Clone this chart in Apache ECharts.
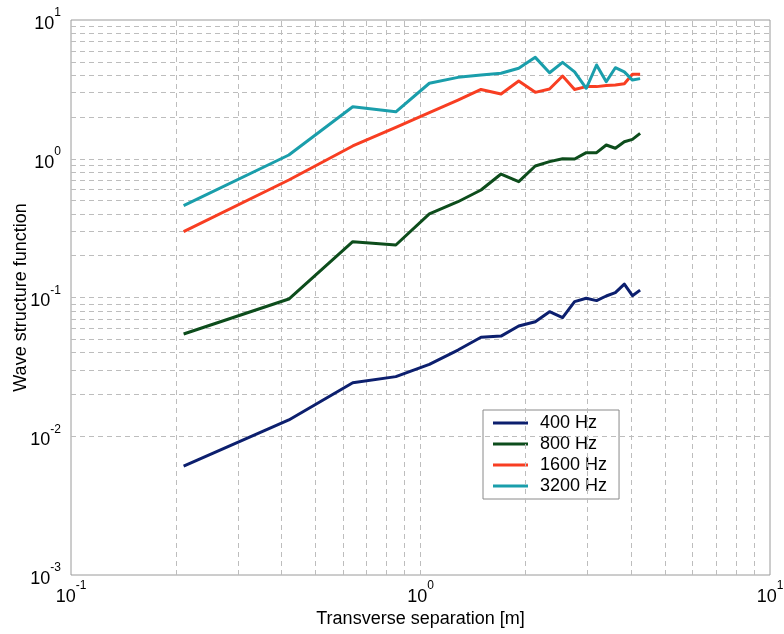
<!DOCTYPE html>
<html>
<head>
<meta charset="utf-8">
<script src="https://cdn.jsdelivr.net/npm/echarts@6/dist/echarts.min.js"></script>
<style>
html,body{margin:0;padding:0;background:#fff;}
#chart{width:784px;height:634px;}
</style>
</head>
<body>
<div id="chart"></div>
<script>
// Transverse separation [m]
const separation = [0.21, 0.42, 0.64, 0.85, 1.06, 1.28, 1.49, 1.70, 1.91, 2.13, 2.34, 2.55, 2.76, 2.98, 3.19, 3.40, 3.61, 3.83, 4.04, 4.25];
const seriesNames = ['400 Hz', '800 Hz', '1600 Hz', '3200 Hz'];
const hz400  = [0.0061, 0.0131, 0.0243, 0.0269, 0.033, 0.0418, 0.0517, 0.0527, 0.0623, 0.0669, 0.079, 0.0715, 0.0933, 0.0987, 0.095, 0.1025, 0.1083, 0.125, 0.103, 0.113];
const hz800  = [0.0546, 0.0975, 0.2525, 0.239, 0.40, 0.49, 0.595, 0.776, 0.684, 0.887, 0.953, 1.0, 0.995, 1.106, 1.106, 1.256, 1.19, 1.327, 1.38, 1.525];
const hz1600 = [0.298, 0.703, 1.236, 1.685, 2.15, 2.65, 3.16, 2.93, 3.63, 3.01, 3.18, 3.95, 3.16, 3.31, 3.31, 3.37, 3.4, 3.47, 4.06, 4.06];
const hz3200 = [0.459, 1.064, 2.37, 2.18, 3.5, 3.86, 4.01, 4.13, 4.49, 5.38, 4.17, 4.95, 4.23, 3.22, 4.74, 3.59, 4.53, 4.23, 3.69, 3.78];
// grid line positions (log decades and their 2..9 sub-ticks)
const xGridDecades = [0.1, 1];
const yGridDecades = [0.001, 0.01, 0.1, 1];
const subSteps = [1, 2, 3, 4, 5, 6, 7, 8, 9];
const colors = ['#0c1f6e', '#0d4d1c', '#f83e22', '#1a9eab'];

const FONT = '"Liberation Sans", Arial, Helvetica, sans-serif';

function pair(xs, ys) { return xs.map((x, i) => [x, ys[i]]); }
function gridVals(decades) {
  const out = [];
  decades.forEach(d => subSteps.forEach(k => { const v = +(d * k).toPrecision(3); if (k > 1 || d !== decades[0]) out.push(v); }));
  return out;
}
const xGrid = gridVals(xGridDecades);
const yGrid = gridVals(yGridDecades);

function pow10Label(v) {
  const e = Math.round(Math.log10(v));
  return '{b|10}{s|' + e + '}';
}
const labelRich = {
  b: { fontSize: 18, lineHeight: 26, verticalAlign: 'bottom', color: '#000', fontFamily: FONT },
  s: { fontSize: 12, lineHeight: 12, verticalAlign: 'top', color: '#000', fontFamily: FONT }
};

const dataSets = [hz400, hz800, hz1600, hz3200];
const series = dataSets.map((d, i) => ({
  name: seriesNames[i],
  type: 'line',
  data: pair(separation, d),
  showSymbol: false,
  symbol: 'none',
  lineStyle: { width: 3, color: colors[i], join: 'round' },
  itemStyle: { color: colors[i] },
  z: 5 + i,
  silent: true
}));
series.unshift({
  name: 'grid',
  type: 'line',
  data: [],
  z: 1,
  silent: true,
  markLine: {
    silent: true,
    symbol: ['none', 'none'],
    label: { show: false },
    animation: false,
    lineStyle: { type: [5, 4], color: '#bdbdbd', width: 1 },
    data: xGrid.map(v => ({ xAxis: v })).concat(yGrid.map(v => ({ yAxis: v })))
  }
});

const chart = echarts.init(document.getElementById('chart'), null, { renderer: 'canvas' });
chart.setOption({
  animation: false,
  backgroundColor: '#fff',
  color: colors,
  grid: { left: 71, right: 14, top: 20, bottom: 59, show: true, borderColor: '#9a9a9a', borderWidth: 1, containLabel: false, outerBoundsMode: 'none' },
  xAxis: {
    type: 'log', logBase: 10, min: 0.1, max: 10,
    name: 'Transverse separation [m]', nameLocation: 'middle', nameGap: 35, nameMoveOverlap: false,
    nameTextStyle: { fontSize: 18, color: '#000', fontFamily: FONT },
    axisLine: { show: false },
    axisTick: { show: false },
    splitLine: { show: false },
    axisLabel: { margin: 5, formatter: pow10Label, rich: labelRich }
  },
  yAxis: {
    type: 'log', logBase: 10, min: 0.001, max: 10,
    name: 'Wave structure function', nameLocation: 'middle', nameGap: 41, nameRotate: 90, nameMoveOverlap: false,
    nameTextStyle: { fontSize: 18, color: '#000', fontFamily: FONT },
    axisLine: { show: false },
    axisTick: { show: false },
    splitLine: { show: false },
    axisLabel: { margin: 10, formatter: pow10Label, rich: labelRich }
  },
  legend: {
    data: seriesNames.map(n => ({ name: n, icon: 'rect' })),
    orient: 'vertical',
    left: 483, top: 410,
    padding: [4, 12, 4, 10],
    itemWidth: 35, itemHeight: 3, itemGap: 3,
    borderColor: '#8a8a8a', borderWidth: 1, backgroundColor: '#fff',
    textStyle: { fontSize: 18, lineHeight: 18, color: '#000', fontFamily: FONT, padding: [0, 0, 0, 7] },
    selectedMode: false
  },
  series: series
});
</script>
</body>
</html>
